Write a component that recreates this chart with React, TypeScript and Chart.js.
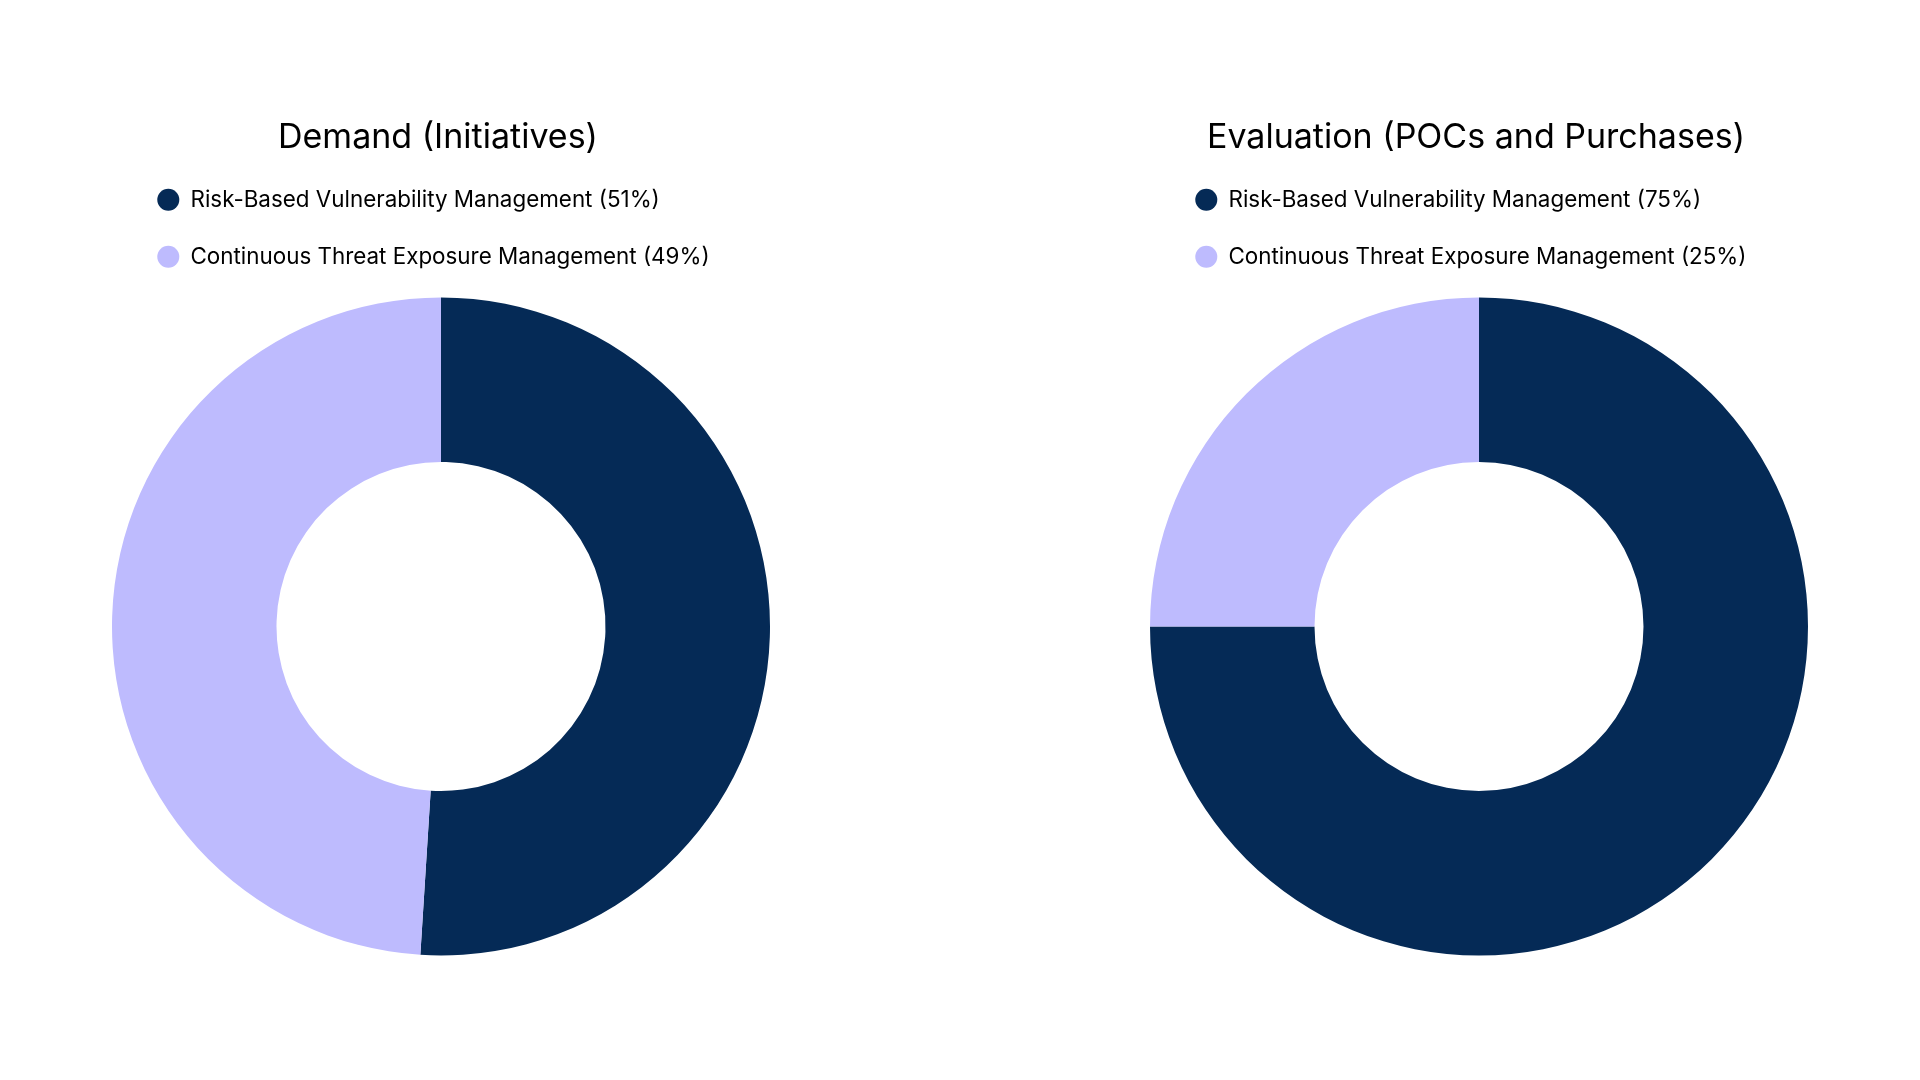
import React, { useEffect, useRef } from 'react';
import { Chart, registerables } from 'chart.js';

Chart.register(...registerables);

// ---- data ----
const categories = ['Risk-Based Vulnerability Management', 'Continuous Threat Exposure Management'];
const demandValues = [51, 49];
const evaluationValues = [75, 25];
const chartTitles = ['Demand (Initiatives)', 'Evaluation (POCs and Purchases)'];
const sliceColors = ['#052A56', '#BEBBFE'];

// ---- layout constants ----
const CANVAS_W = 658;
const CANVAS_H = 1000;
const TITLE_FONT = 34;
const TITLE_LH = 0.94;
const LEGEND_FONT = 22.4;
const LEGEND_PAD = 34.6;
const LEGEND_TOP = 154;
const LEGEND_SHIFT = 10.7;
const TITLE_SHIFT = -3;

const layoutTweak = {
  id: 'layoutTweak',
  afterLayout(chart: any) {
    if (chart.legend) {
      chart.legend.left += LEGEND_SHIFT;
    }
    if (chart.titleBlock) {
      chart.titleBlock.left += TITLE_SHIFT;
      chart.titleBlock.right += TITLE_SHIFT;
    }
  },
};

function Donut({ title, values, left }: { title: string; values: number[]; left: number }) {
  const ref = useRef<HTMLCanvasElement | null>(null);
  useEffect(() => {
    if (!ref.current) return;
    const labels = categories.map((c, i) => `${c} (${values[i]}%)`);
    const titleH = TITLE_FONT * TITLE_LH;
    const padTop = LEGEND_TOP - titleH;
    const legendH = 2 * (LEGEND_FONT + LEGEND_PAD) + 10;
    const areaTop = LEGEND_TOP + legendH;
    const centerY = 626.5;
    const padBottom = CANVAS_H - (2 * centerY - areaTop);
    const chart = new Chart(ref.current, {
      type: 'doughnut',
      data: {
        labels,
        datasets: [
          {
            data: values,
            backgroundColor: sliceColors,
            borderWidth: 0,
          },
        ],
      },
      options: {
        animation: false,
        responsive: true,
        maintainAspectRatio: false,
        events: [],
        cutout: '50%',
        layout: {
          padding: { top: padTop, bottom: padBottom, left: 0, right: 0 },
        },
        plugins: {
          title: {
            display: true,
            text: title,
            color: '#000000',
            font: { family: 'Inter', size: TITLE_FONT, weight: 'normal', lineHeight: TITLE_LH },
            padding: 0,
          },
          legend: {
            display: true,
            position: 'top',
            align: 'start',
            labels: {
              color: '#000000',
              font: { family: 'Inter', size: LEGEND_FONT },
              usePointStyle: true,
              pointStyle: 'circle',
              pointStyleWidth: 22,
              boxHeight: 11 * Math.SQRT2,
              padding: LEGEND_PAD,
            },
          },
          tooltip: { enabled: false },
        },
      },
      plugins: [layoutTweak],
    });
    return () => chart.destroy();
  }, [title, values]);
  return (
    <div style={{ position: 'absolute', left, top: 0, width: CANVAS_W, height: CANVAS_H }}>
      <canvas ref={ref} />
    </div>
  );
}

export default function App() {
  return (
    <div
      style={{
        position: 'fixed',
        left: 0,
        top: 0,
        width: 1920,
        height: 1080,
        background: '#ffffff',
        overflow: 'hidden',
      }}
    >
      <Donut title={chartTitles[0]} values={demandValues} left={112} />
      <Donut title={chartTitles[1]} values={evaluationValues} left={1150} />
    </div>
  );
}
